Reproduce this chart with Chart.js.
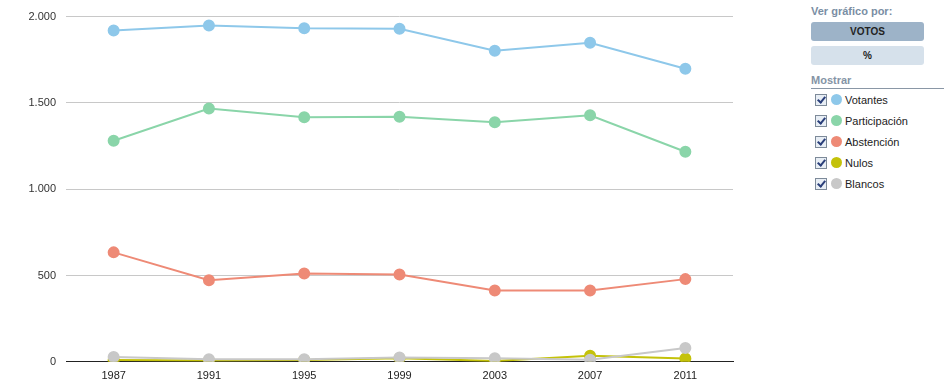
<!DOCTYPE html>
<html>
<head>
<meta charset="utf-8">
<script src="https://cdn.jsdelivr.net/npm/chart.js@4/dist/chart.umd.min.js"></script>
<style>
  html, body { margin:0; padding:0; background:#fff; width:944px; height:388px; overflow:hidden; font-family:"Liberation Sans", Arial, sans-serif; }
  #wrap { position:absolute; left:0; top:0; width:750px; height:388px; }
  #side { position:absolute; left:811px; top:0; width:133px; }
  .ttl { font-weight:bold; color:#7a8ea4; font-size:11px; position:absolute; left:0; }
  .btn { position:absolute; left:0; width:113px; height:19px; border-radius:3px; text-align:center; line-height:19px; font-size:10px; font-weight:bold; color:#222; }
  .item { position:absolute; left:4px; height:14px; font-size:11px; color:#222; line-height:14px; white-space:nowrap; }
  .cb { display:inline-block; width:10px; height:10px; border:1px solid #7d8a99; background:#e8eef5; vertical-align:top; margin-top:1px; position:relative; }
  .cb:after { content:""; position:absolute; left:3px; top:0px; width:3px; height:6px; border:solid #2a3f7a; border-width:0 2px 2px 0; transform:rotate(40deg); }
  .dot { display:inline-block; width:11px; height:11px; border-radius:50%; vertical-align:top; margin-left:4px; margin-top:1px; }
  .lbl { display:inline-block; margin-left:3px; vertical-align:top; }
</style>
</head>
<body>
<div id="wrap"><canvas id="c" width="750" height="388"></canvas></div>
<div id="side">
  <div class="ttl" style="top:5px;">Ver gráfico por:</div>
  <div class="btn" style="top:22px;background:#9db3c8;">VOTOS</div>
  <div class="btn" style="top:46px;background:#d6e1eb;">%</div>
  <div class="ttl" style="top:74px;color:#8594a6;">Mostrar</div>
  <div style="position:absolute;left:0;top:88px;width:133px;height:1px;background:#8a97a6;"></div>
  <div id="legend"></div>
</div>
<script>
const categories = ["1987","1991","1995","1999","2003","2007","2011"];
const votantes      = [1919, 1948, 1932, 1930, 1802, 1849, 1698];
const participacion = [1281, 1467, 1417, 1420, 1388, 1428, 1217];
const abstencion    = [634, 473, 512, 506, 413, 413, 479];
const nulos         = [10, 8, 10, 20, 5, 35, 19];
const blancos       = [28, 15, 15, 25, 20, 12, 80];
const seriesNames   = ["Votantes","Participación","Abstención","Nulos","Blancos"];
const seriesColors  = ["#8ec8ea","#8ad5a9","#ee8a76","#c4c20a","#c8c8c8"];
const yTickValues   = [0, 500, 1000, 1500, 2000];
const yTickLabels   = ["0","500","1.000","1.500","2.000"];

const seriesData = [votantes, participacion, abstencion, nulos, blancos];
const order = [4,3,2,1,0];
const datasets = order.map(i => ({
  label: seriesNames[i],
  data: seriesData[i],
  borderColor: seriesColors[i],
  backgroundColor: seriesColors[i],
  pointBackgroundColor: seriesColors[i],
  pointBorderColor: seriesColors[i],
  borderWidth: 2,
  pointRadius: 5,
  pointHoverRadius: 5,
  tension: 0,
  fill: false
}));

// legend
const lg = document.getElementById('legend');
seriesNames.forEach((n, i) => {
  const d = document.createElement('div');
  d.className = 'item';
  d.style.top = (93 + i * 21) + 'px';
  d.innerHTML = '<span class="cb"></span><span class="dot" style="background:' + seriesColors[i] + '"></span><span class="lbl">' + n + '</span>';
  lg.appendChild(d);
});

new Chart(document.getElementById('c'), {
  type: 'line',
  data: { labels: categories, datasets: datasets },
  options: {
    responsive: false,
    animation: false,
    layout: { padding: { left: 0, right: 17, top: 12, bottom: -3 } },
    plugins: { legend: { display: false }, tooltip: { enabled: false } },
    scales: {
      x: {
        offset: true,
        grid: { display: false, drawTicks: false },
        border: { display: true, color: '#222', width: 1 },
        ticks: { color: '#222', font: { family: "Liberation Sans", size: 11 }, padding: 8, maxRotation: 0 }
      },
      y: {
        min: 0, max: 2000,
        afterBuildTicks: s => { s.ticks = yTickValues.map(v => ({ value: v })); },
        afterFit: s => { s.width = 66; },
        grid: { color: '#c8c8c8', drawTicks: false },
        border: { display: false },
        ticks: {
          color: '#333', font: { family: "Liberation Sans", size: 11 }, padding: 10,
          callback: v => yTickLabels[yTickValues.indexOf(v)]
        }
      }
    }
  }
});
</script>
</body>
</html>
